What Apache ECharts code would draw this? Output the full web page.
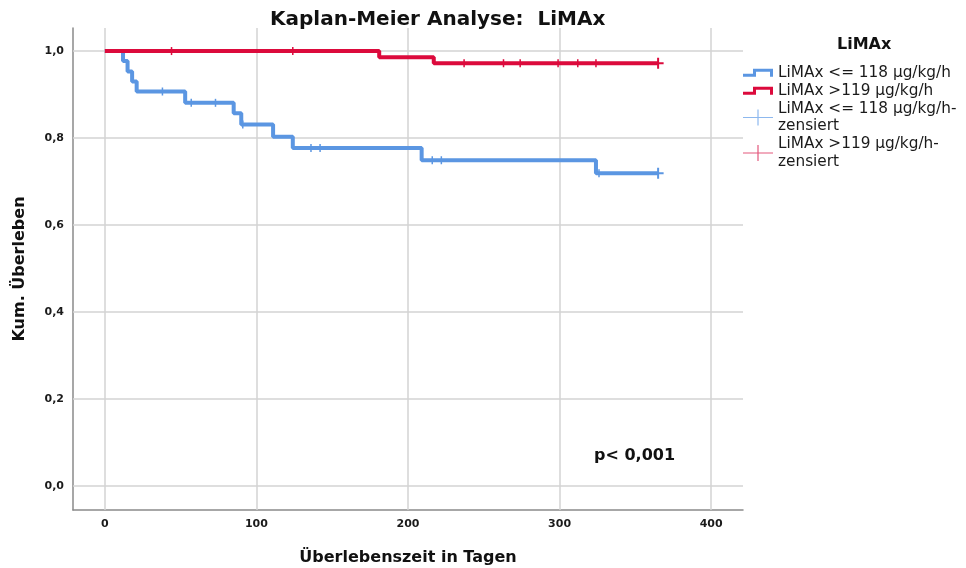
<!DOCTYPE html>
<html>
<head>
<meta charset="utf-8">
<title>Kaplan-Meier Analyse: LiMAx</title>
<script src="https://cdn.jsdelivr.net/npm/echarts@6/dist/echarts.min.js"></script>
<style>
  html, body { margin: 0; padding: 0; background: #ffffff; }
  #chart { width: 966px; height: 568px; }
</style>
</head>
<body>
<div id="chart"></div>
<script>
// Kaplan-Meier survival steps: [day, cumulative survival]
const lowSteps = [
  [0, 1.0], [12, 0.977], [15, 0.953], [18, 0.930], [21, 0.907],
  [53, 0.881], [85, 0.857], [90, 0.831], [111, 0.803], [124, 0.777],
  [209, 0.749], [324, 0.719], [365, 0.719]
];
const highSteps = [
  [0, 1.0], [181, 0.986], [217, 0.972], [365, 0.972]
];

// Days at which patients were censored
const lowCensored = [38, 57, 73, 91, 136, 142, 216, 222, 326, 365];
const highCensored = [44, 124, 237, 263, 274, 299, 312, 324, 365];

// Axis ticks
const xTicks = [0, 100, 200, 300, 400];
const yTicks = [0, 0.2, 0.4, 0.6, 0.8, 1.0];

const followUpEnd = 365;

const seriesNames = {
  low: 'LiMAx <= 118 µg/kg/h',
  high: 'LiMAx >119 µg/kg/h',
  lowCens: 'LiMAx <= 118 µg/kg/h-zensiert',
  highCens: 'LiMAx >119 µg/kg/h-zensiert'
};

const BLUE = '#5b96e2';
const RED = '#dc0a3c';
const FONT = 'DejaVu Sans';

// survival value of a step curve at a given day
function survivalAt(steps, day) {
  let s = steps[0][1];
  for (const [t, v] of steps) {
    if (t <= day) s = v; else break;
  }
  return s;
}
const censorPoints = (steps, days) => days.map(d => [d, survivalAt(steps, d)]);

const tickMark = 'path://M0,0 L1,0 L1,8 L0,8 Z';
const endCross = 'path://M4.5,0 L6.5,0 L6.5,4.5 L11,4.5 L11,6.5 L6.5,6.5 L6.5,11 L4.5,11 L4.5,6.5 L0,6.5 L0,4.5 L4.5,4.5 Z';

const stepIcon = 'path://M0,0 L0.01,0 L0,0.01 Z M30,16 L29.99,16 L30,15.99 Z ' +
  'M0,9 L10,9 L10,4 L30,4 L30,12 L27,12 L27,7 L13,7 L13,12 L0,12 Z';
const crossIcon = 'path://M0,7.4 L30,7.4 L30,8.6 L0,8.6 Z M14.4,0 L15.6,0 L15.6,16 L14.4,16 Z';

const gridLines = xTicks.map(v => ({ xAxis: v })).concat(yTicks.map(v => ({ yAxis: v })));

const chart = echarts.init(document.getElementById('chart'), null, { renderer: 'canvas' });

chart.setOption({
  animation: false,
  backgroundColor: '#ffffff',
  title: {
    text: 'Kaplan-Meier Analyse:  LiMAx',
    left: 265,
    top: 5,
    textStyle: { fontFamily: FONT, fontSize: 20, fontWeight: 'bold', color: '#111111' }
  },
  grid: { left: 73, right: 223, top: 28, bottom: 58, containLabel: false, outerBoundsMode: 'none' },
  legend: {
    orient: 'vertical',
    left: 738,
    top: 59,
    itemWidth: 30,
    itemHeight: 16,
    itemGap: 0.5,
    selectedMode: false,
    symbolKeepAspect: true,
    itemStyle: { borderWidth: 0 },
    textStyle: { fontFamily: FONT, fontSize: 15.3, color: '#1a1a1a', lineHeight: 17.5 },
    formatter: name => name.replace('h-zensiert', 'h-\nzensiert'),
    data: [
      { name: seriesNames.low, icon: stepIcon, itemStyle: { color: BLUE } },
      { name: seriesNames.high, icon: stepIcon, itemStyle: { color: RED } },
      { name: seriesNames.lowCens, icon: crossIcon, itemStyle: { color: '#8db8ee' } },
      { name: seriesNames.highCens, icon: crossIcon, itemStyle: { color: '#e3587c' } }
    ]
  },
  xAxis: {
    type: 'value',
    min: -21,
    max: 421,
    name: 'Überlebenszeit in Tagen',
    nameLocation: 'middle',
    nameGap: 40,
    nameTextStyle: { fontFamily: FONT, fontSize: 16, fontWeight: 'bold', color: '#111111' },
    axisLine: { show: true, onZero: false, lineStyle: { color: '#8a8a8a', width: 1.5 } },
    axisTick: { show: false },
    splitLine: { show: false },
    axisLabel: {
      customValues: xTicks,
      margin: 9,
      fontFamily: FONT, fontSize: 11, fontWeight: 'bold', color: '#1a1a1a'
    }
  },
  yAxis: {
    type: 'value',
    min: -0.055,
    max: 1.053,
    name: 'Kum. Überleben',
    nameLocation: 'middle',
    nameGap: 45,
    nameTextStyle: { fontFamily: FONT, fontSize: 16, fontWeight: 'bold', color: '#111111' },
    axisLine: { show: true, onZero: false, lineStyle: { color: '#8a8a8a', width: 1.5 } },
    axisTick: { show: false },
    splitLine: { show: false },
    axisLabel: {
      customValues: yTicks,
      margin: 9,
      formatter: v => v.toFixed(1).replace('.', ','),
      fontFamily: FONT, fontSize: 11, fontWeight: 'bold', color: '#1a1a1a'
    }
  },
  graphic: [
    {
      type: 'text',
      left: 837,
      top: 37,
      style: { text: 'LiMAx', fontFamily: FONT, fontSize: 16, fontWeight: 'bold', fill: '#111111' }
    },
    {
      type: 'text',
      left: 594,
      top: 448,
      style: { text: 'p< 0,001', fontFamily: FONT, fontSize: 16, fontWeight: 'bold', fill: '#111111' }
    }
  ],
  series: [
    {
      // reference grid lines at the tick values, kept beneath the curves
      type: 'line',
      data: [],
      z: 1,
      silent: true,
      markLine: {
        z: 1,
        silent: true,
        symbol: ['none', 'none'],
        label: { show: false },
        lineStyle: { color: '#d3d3d3', width: 1.5, type: 'solid' },
        emphasis: { disabled: true },
        data: gridLines
      }
    },
    {
      name: seriesNames.low,
      type: 'line',
      step: 'end',
      showSymbol: false,
      z: 3,
      lineStyle: { color: BLUE, width: 4 },
      itemStyle: { color: BLUE },
      data: lowSteps
    },
    {
      name: seriesNames.high,
      type: 'line',
      step: 'end',
      showSymbol: false,
      z: 4,
      lineStyle: { color: RED, width: 4 },
      itemStyle: { color: RED },
      data: highSteps
    },
    {
      name: seriesNames.lowCens,
      type: 'scatter',
      z: 5,
      symbol: v => (v[0] >= followUpEnd ? endCross : tickMark),
      symbolSize: v => (v[0] >= followUpEnd ? [11, 11] : [1.5, 8]),
      symbolKeepAspect: false,
      itemStyle: { color: BLUE, opacity: 1 },
      data: censorPoints(lowSteps, lowCensored)
    },
    {
      name: seriesNames.highCens,
      type: 'scatter',
      z: 6,
      symbol: v => (v[0] >= followUpEnd ? endCross : tickMark),
      symbolSize: v => (v[0] >= followUpEnd ? [11, 11] : [1.5, 8]),
      symbolKeepAspect: false,
      itemStyle: { color: RED, opacity: 1 },
      data: censorPoints(highSteps, highCensored)
    }
  ]
});
</script>
</body>
</html>
